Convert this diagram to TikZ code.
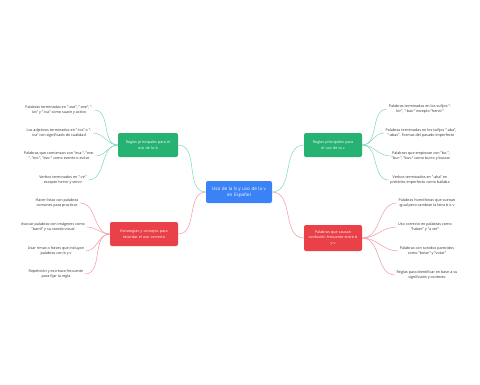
\documentclass[tikz,border=0pt]{standalone}
\usepackage{fontspec}
\setmainfont{Open Sans}
\usepackage{tikz}
\definecolor{mapblue}{RGB}{59,130,246}
\definecolor{mapgreen}{RGB}{38,178,115}
\definecolor{mapred}{RGB}{234,64,72}
\definecolor{greenline}{RGB}{125,215,180}
\definecolor{redline}{RGB}{245,150,160}

\begin{document}
\begin{tikzpicture}[x=1pt,y=-1pt,
    root/.style={fill=mapblue, text=white, rounded corners=2pt, align=center,
        text width=58pt, minimum height=22pt, inner xsep=4pt,
        font=\fontsize{4.6}{6.4}\selectfont},
    topic/.style={text=white, rounded corners=2pt, align=center,
        minimum height=24pt, inner xsep=3pt, font=\fontsize{3.7}{5.4}\selectfont},
    leaf/.style={align=center, inner sep=1.5pt, text=black!80,
        font=\fontsize{3.7}{5.6}\selectfont},
    gline/.style={greenline, line width=0.5pt},
    rline/.style={redline, line width=0.5pt}]
    \useasboundingbox (0,0) rectangle (480,384);

    % centre
    \node[root] (uso) at (239,192) {Uso de la b y uso de la v\\en Español};

    % main branches
    \node[topic, fill=mapgreen, text width=54pt] (reglasb) at (148,145) {Reglas principales para el\\uso de la b};
    \node[topic, fill=mapgreen, text width=52pt] (reglasv) at (333,145) {Reglas principales para\\el uso de la v};
    \node[topic, fill=mapred, text width=62pt] (consejos) at (144,234) {Estrategias y consejos para\\recordar el uso correcto};
    \node[topic, fill=mapred, text width=52pt, minimum height=26pt] (confusion) at (333,238) {Palabras que causan\\confusión frecuente entre b\\y v};

    \draw[gline] (uso.west) to[out=180,in=0] (reglasb.east);
    \draw[rline] (uso.west) to[out=180,in=0] (consejos.east);
    \draw[gline] (uso.east) to[out=0,in=180] (reglasv.west);
    \draw[rline] (uso.east) to[out=0,in=180] (confusion.west);

    % reglas de la b
    \node[leaf] (b1) at (59,110) {Palabras terminadas en "-ave", "-eve", "-\\ivo" y "-iva" como suave y activo};
    \node[leaf] (b2) at (59,133) {Los adjetivos terminados en "-ivo" o "-\\iva" con significado de cualidad};
    \node[leaf] (b3) at (59,156) {Palabras que comienzan con "eva-", "eve-\\", "evi-", "evo-" como evento o evitar};
    \node[leaf] (b4) at (63,180) {Verbos terminados en "-vir"\\excepto hervir y servir};
    \foreach \n in {b1,b2,b3,b4}
        \draw[gline] (reglasb.west) to[out=180,in=0] (\n.east);

    % reglas de la v
    \node[leaf] (v1) at (420,109) {Palabras terminadas en los sufijos "-\\bir", "-buir" excepto "hervir"};
    \node[leaf] (v2) at (421,133) {Palabras terminadas en los sufijos "-aba",\\"-abas". Formas del pasado imperfecto};
    \node[leaf] (v3) at (421,156) {Palabras que empiezan con "bu-",\\"bur-", "bus-" como burro y buscar};
    \node[leaf] (v4) at (420,180) {Verbos terminados en "-aba" en\\pretérito imperfecto como bailaba};
    \foreach \n in {v1,v2,v3,v4}
        \draw[gline] (reglasv.east) to[out=0,in=180] (\n.west);

    % estrategias
    \node[leaf] (e1) at (57,203) {Hacer listas con palabras\\comunes para practicar};
    \node[leaf] (e2) at (53,227) {Asociar palabras con imágenes como\\"barril" y su sonido visual};
    \node[leaf] (e3) at (56,251) {Usar rimas o frases que incluyan\\palabras con b y v};
    \node[leaf] (e4) at (56,274) {Repetición y escritura frecuente\\para fijar la regla};
    \foreach \n in {e1,e2,e3,e4}
        \draw[rline] (consejos.west) to[out=180,in=0] (\n.east);

    % confusiones
    \node[leaf] (c1) at (427,203) {Palabras homófonas que suenan\\igual pero cambian la letra b o v};
    \node[leaf] (c2) at (425,227) {Uso correcto en palabras como\\"haber" y "a ver"};
    \node[leaf] (c3) at (427,251) {Palabras con sonidos parecidos\\como "botar" y "votar"};
    \node[leaf] (c4) at (427,275) {Reglas para identificar en base a su\\significado y contexto};
    \foreach \n in {c1,c2,c3,c4}
        \draw[rline] (confusion.east) to[out=0,in=180] (\n.west);
\end{tikzpicture}
\end{document}
